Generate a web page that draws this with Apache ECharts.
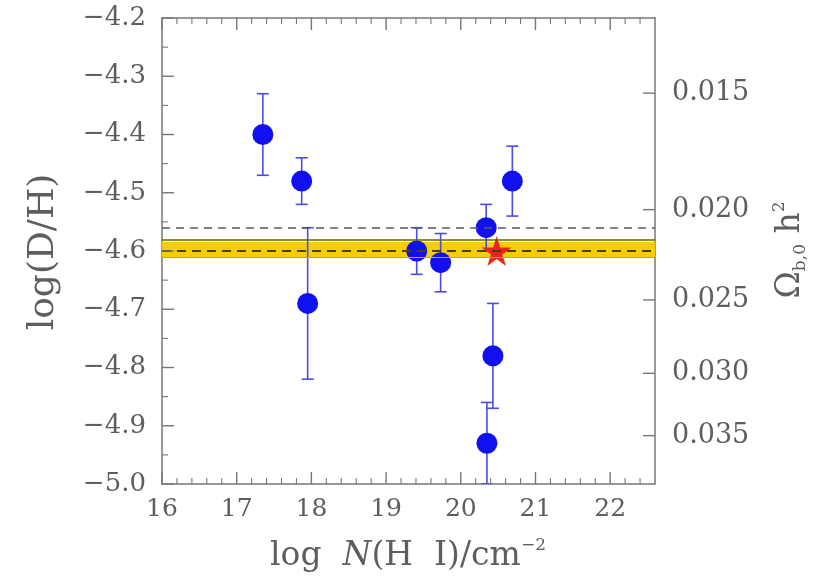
<!DOCTYPE html>
<html>
<head>
<meta charset="utf-8">
<script src="https://cdn.jsdelivr.net/npm/echarts@6/dist/echarts.min.js"></script>
<style>html,body{margin:0;padding:0;background:#fff;}#c{width:823px;height:578px;}</style>
</head>
<body>
<div id="c"></div>
<script>
// ---- data ----
const logNHI   = [17.35, 17.87, 17.95, 19.41, 19.73, 20.34, 20.43, 20.35, 20.69];
const logDH    = [-4.40, -4.48, -4.69, -4.60, -4.62, -4.56, -4.78, -4.93, -4.48];
const errDH    = [0.07, 0.04, 0.13, 0.04, 0.05, 0.04, 0.09, 0.07, 0.06];
const starPoint = [20.48, -4.60];
const bandLow = -4.612, bandHigh = -4.584, bandMid = -4.600;
const dashedUpper = -4.56;
const omegaLabels = ['0.015', '0.020', '0.025', '0.030', '0.035'];
const omegaPosDH  = [-4.329, -4.529, -4.684, -4.810, -4.917];
const xTickLabels = [16, 17, 18, 19, 20, 21, 22];
const yTickLabels = [-5.0, -4.9, -4.8, -4.7, -4.6, -4.5, -4.4, -4.3, -4.2];

const X_MIN = 16, X_MAX = 22.6, Y_MIN = -5.0, Y_MAX = -4.2;
const GL = 162, GT = 18, GW = 493, GH = 466;
const textCol = '#5e5e5e', axisCol = '#777777';
const FONT = '"DejaVu Serif", "Liberation Serif", serif';
const MAJ = 12, MIN_LEN = 6, TW = 1.4;

const chart = echarts.init(document.getElementById('c'), null, {renderer: 'canvas'});

const errData = logNHI.map((x, i) => [x, logDH[i], logDH[i] - errDH[i], logDH[i] + errDH[i]]);
const ptsData = logNHI.map((x, i) => [x, logDH[i]]);
const rightData = omegaPosDH.map((v, i) => [X_MAX, v]);

// tick positions (major at labelled values, minor between)
const xMajor = xTickLabels.slice();
const xMinor = [];
xTickLabels.forEach(v => { for (let k = 1; k < 5; k++) { const m = +(v + k * 0.2).toFixed(2); if (m < X_MAX - 1e-6) xMinor.push(m); } });
const yMajor = yTickLabels.slice();
const yMinor = yTickLabels.slice(0, -1).map(v => +(v + 0.05).toFixed(3));

function tickSeries(data, size, offset) {
  return {
    type: 'scatter', xAxisIndex: 0, yAxisIndex: 0, silent: true, clip: false, z: 5,
    data: data, symbol: 'rect', symbolSize: size, symbolOffset: offset,
    itemStyle: {color: axisCol, opacity: 1}
  };
}

const fmtY = v => {
  const r = Math.round(v * 10) / 10;
  if (Math.abs(v - r) > 1e-6) return '';
  if (!yTickLabels.some(t => Math.abs(t - r) < 1e-6)) return '';
  return '\u2212' + Math.abs(r).toFixed(1);
};
const fmtX = v => (Math.abs(v - Math.round(v)) < 1e-6 && xTickLabels.includes(Math.round(v))) ? String(Math.round(v)) : '';

const axisBase = {
  type: 'value',
  axisLine: {show: true, onZero: false, lineStyle: {color: axisCol, width: 1.5}},
  axisTick: {show: false}, minorTick: {show: false}, splitLine: {show: false}
};

const option = {
  animation: false,
  backgroundColor: '#ffffff',
  grid: {left: GL, top: GT, width: GW, height: GH, containLabel: false},
  xAxis: [
    Object.assign({}, axisBase, {min: X_MIN, max: X_MAX, interval: 1, position: 'bottom',
      axisLabel: {show: true, margin: 13, formatter: fmtX, color: textCol, fontSize: 25, fontFamily: FONT}}),
    Object.assign({}, axisBase, {min: X_MIN, max: X_MAX, interval: 1, position: 'top', axisLabel: {show: false}})
  ],
  yAxis: [
    Object.assign({}, axisBase, {min: Y_MIN, max: Y_MAX, interval: 0.1, position: 'left',
      axisLabel: {show: true, margin: 16, formatter: fmtY, color: textCol, fontSize: 26, fontFamily: FONT}}),
    Object.assign({}, axisBase, {min: Y_MIN, max: Y_MAX, interval: 0.1, position: 'right', axisLabel: {show: false}})
  ],
  series: [
    {
      type: 'line', data: [], xAxisIndex: 0, yAxisIndex: 0, silent: true,
      markArea: {
        silent: true,
        itemStyle: {color: '#f3cf00', opacity: 1},
        data: [[{yAxis: bandLow}, {yAxis: bandHigh}]]
      },
      markLine: {
        silent: true, symbol: 'none', label: {show: false},
        data: [
          {yAxis: dashedUpper, lineStyle: {color: '#5a5a5a', type: [8, 6], width: 1.5}},
          {yAxis: bandHigh, lineStyle: {color: '#6e6200', type: 'solid', width: 1.5}},
          {yAxis: bandLow, lineStyle: {color: '#c9aa00', type: 'solid', width: 1}},
          {yAxis: bandMid, lineStyle: {color: '#4a4000', type: [9, 6], width: 2}}
        ]
      }
    },
    // axis tick marks, inward
    tickSeries(xMajor.map(v => [v, Y_MIN]), [TW, MAJ], [0, -MAJ / 2]),
    tickSeries(xMinor.map(v => [v, Y_MIN]), [1.1, MIN_LEN], [0, -MIN_LEN / 2]),
    tickSeries(xMajor.map(v => [v, Y_MAX]), [TW, MAJ], [0, MAJ / 2]),
    tickSeries(xMinor.map(v => [v, Y_MAX]), [1.1, MIN_LEN], [0, MIN_LEN / 2]),
    tickSeries(yMajor.map(v => [X_MIN, v]), [MAJ, TW], [MAJ / 2, 0]),
    tickSeries(yMinor.map(v => [X_MIN, v]), [MIN_LEN, 1.1], [MIN_LEN / 2, 0]),
    tickSeries(rightData, [MAJ, TW], [-MAJ / 2, 0]),
    {
      type: 'custom', xAxisIndex: 0, yAxisIndex: 0, clip: true, silent: true,
      data: errData,
      renderItem: function (params, api) {
        const x = api.value(0);
        const lo = api.coord([x, api.value(2)]);
        const hi = api.coord([x, api.value(3)]);
        const cap = 6;
        const st = {stroke: '#4b4be6', lineWidth: 1.6};
        return {type: 'group', children: [
          {type: 'line', shape: {x1: lo[0], y1: lo[1], x2: hi[0], y2: hi[1]}, style: st},
          {type: 'line', shape: {x1: lo[0] - cap, y1: lo[1], x2: lo[0] + cap, y2: lo[1]}, style: st},
          {type: 'line', shape: {x1: hi[0] - cap, y1: hi[1], x2: hi[0] + cap, y2: hi[1]}, style: st}
        ]};
      }
    },
    {
      type: 'scatter', xAxisIndex: 0, yAxisIndex: 0, silent: true,
      data: ptsData, symbol: 'circle', symbolSize: 21,
      itemStyle: {color: '#1010f0', opacity: 1}
    },
    {
      type: 'scatter', xAxisIndex: 0, yAxisIndex: 0, silent: true,
      data: [starPoint],
      symbol: 'path://M50,0 L61.2,34.5 L97.6,34.5 L68.2,55.9 L79.4,90.5 L50,69.1 L20.6,90.5 L31.8,55.9 L2.4,34.5 L38.8,34.5 Z',
      symbolSize: 30, itemStyle: {color: '#f22020', opacity: 1}
    },
    {
      // right-hand Omega_b h^2 labels
      type: 'custom', xAxisIndex: 0, yAxisIndex: 0, clip: false, silent: true,
      data: rightData,
      renderItem: function (params, api) {
        const p = api.coord([api.value(0), api.value(1)]);
        return {type: 'text', style: {text: omegaLabels[params.dataIndex], x: p[0] + 17, y: p[1],
          verticalAlign: 'middle', align: 'left', fill: textCol, font: '27px ' + FONT}};
      }
    }
  ],
  graphic: [
    {
      type: 'text', silent: true, x: 408, y: 556,
      style: {
        text: '{n|log  }{i|N}{n|(H  I)/cm}{s|\u22122}',
        x: 0, y: 0, align: 'center', verticalAlign: 'middle',
        fill: textCol,
        rich: {
          n: {fontSize: 33, fontFamily: FONT, fill: textCol, lineHeight: 38},
          i: {fontSize: 33, fontFamily: FONT, fontStyle: 'italic', fill: textCol, lineHeight: 38},
          s: {fontSize: 17, fontFamily: FONT, fill: textCol, verticalAlign: 'top', lineHeight: 38}
        }
      }
    },
    {
      type: 'text', silent: true,
      x: 44, y: 252, rotation: Math.PI / 2,
      style: {
        text: 'log(D/H)', x: 0, y: 0, align: 'center', verticalAlign: 'middle',
        fill: textCol, font: '36px ' + FONT
      }
    },
    {
      type: 'text', silent: true,
      x: 790, y: 250, rotation: Math.PI / 2,
      style: {
        text: '{n|\u03A9}{s|b,0}{n| h}{p|2}', x: 0, y: 0, align: 'center', verticalAlign: 'middle',
        fill: textCol,
        rich: {
          n: {fontSize: 33, fontFamily: FONT, fill: textCol, lineHeight: 38},
          s: {fontSize: 17, fontFamily: FONT, fill: textCol, verticalAlign: 'bottom', lineHeight: 38},
          p: {fontSize: 17, fontFamily: FONT, fill: textCol, verticalAlign: 'top', lineHeight: 38}
        }
      }
    }
  ]
};
chart.setOption(option);
</script>
</body>
</html>
